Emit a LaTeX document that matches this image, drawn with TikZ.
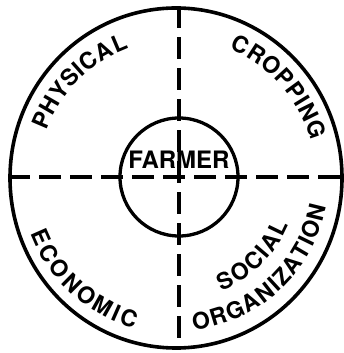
\documentclass[tikz,border=0pt]{standalone}
\usepackage{fontspec}
\setmainfont{TeX Gyre Heros}
\usetikzlibrary{shapes.geometric,decorations.text}
\newcommand{\ringfont}{\fontsize{23}{23}\selectfont\bfseries}
\tikzset{
  rim/.style={draw,line width=3.6pt,inner sep=0pt},
  divider/.style={line width=3.2pt,dash pattern=on 22pt off 9pt},
  ringtext/.style={decorate,decoration={text along path,text align=fit to path,text={|\ringfont|#1}}}
}

\begin{document}
\begin{tikzpicture}[x=1pt,y=1pt]
    \useasboundingbox (0,0) rectangle (344,353);
    \node[rim,ellipse,minimum width=332pt,minimum height=340pt] (ring) at (176,175) {};
    \node[rim,circle,line width=3.3pt,minimum size=118pt] (hub) at (179,176) {};
    \node[inner sep=0pt,font=\fontsize{24}{24}\selectfont\bfseries] (farmer) at (179,193) {FARMER};
    \draw[divider] (ring.west |- hub.center) -- (ring.east |- hub.center);
    \draw[divider] (ring.north -| hub.center) -- (ring.south -| hub.center);
    % labels of the four quarters
    \path[ringtext=PHYSICAL] ([shift={(160:138)}]ring.center) arc (160:110:138);
    \path[ringtext=CROPPING] ([shift={(67.5:140)}]ring.center) arc (67.5:15.5:140);
    \path[ringtext=ECONOMIC] ([shift={(201:156)}]ring.center) arc (201:254.4:156);
    \path[ringtext=SOCIAL] ([shift={(-68.2:122)}]ring.center) arc (-68.2:-22.5:122);
    \path[ringtext=ORGANIZATION] ([shift={(-83.4:153)}]ring.center) arc (-83.4:-10.8:153);
  \end{tikzpicture}
\end{document}
